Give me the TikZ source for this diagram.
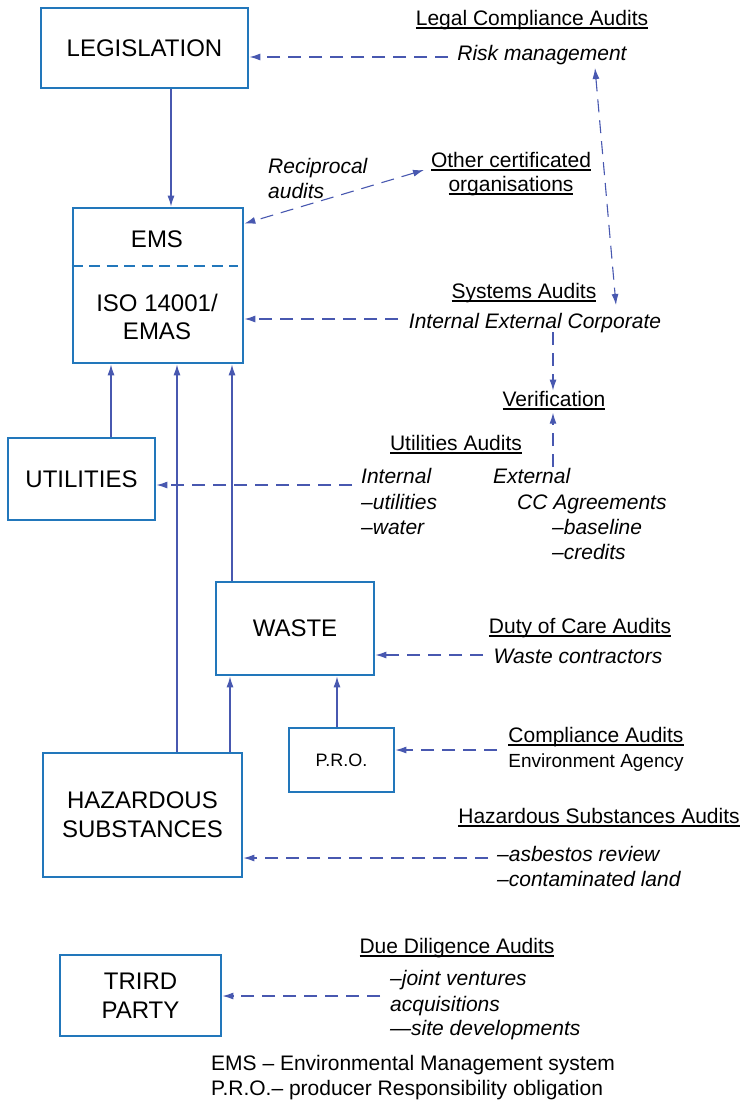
\documentclass[tikz,border=0pt]{standalone}
\usepackage{fontspec}
\setmainfont{Liberation Sans}
\usetikzlibrary{arrows.meta}
\definecolor{boxblue}{HTML}{2277BB}
\definecolor{arrblue}{HTML}{4858B0}
% underline with a rule of fixed weight
\newcommand{\ulab}[1]{\setbox0\hbox{#1}\rlap{\rule[-3.5pt]{\wd0}{1.1pt}}\box0}
\begin{document}
\begin{tikzpicture}[x=1pt,y=-1pt,
  box/.style={draw=boxblue,line width=2.8pt,inner sep=0pt,align=center,
    font=\fontsize{24}{29}\selectfont},
  lab/.style={inner sep=0pt,font=\fontsize{21}{25}\itshape\selectfont},
  head/.style={inner sep=0pt,font=\fontsize{21}{25}\selectfont},
  sar/.style={arrblue,line width=1.1pt,-{Latex[length=11pt,width=7pt]}},
  dar/.style={arrblue,line width=1.1pt,dash pattern=on 13pt off 8pt,
    -{Latex[length=11pt,width=7pt]}},
  ddar/.style={dar,{Latex[length=11pt,width=7pt]}-{Latex[length=11pt,width=7pt]}}]
\useasboundingbox (0,0) rectangle (742,1101);

% boxes
\node[box,minimum width=207pt,minimum height=80pt] (legis) at (144.5,48) {LEGISLATION};
\node[box,minimum width=170pt,minimum height=155pt] (ems) at (158,285.5) {};
\node[box,minimum width=147pt,minimum height=82pt] (util) at (81.5,479) {UTILITIES};
\node[box,minimum width=158pt,minimum height=93pt] (waste) at (295,628.5) {WASTE};
\node[box,minimum width=105pt,minimum height=64pt,font=\fontsize{18}{22}\selectfont] (pro) at (341.5,760) {P.R.O.};
\node[box,minimum width=199pt,minimum height=124pt] (haz) at (142.5,815) {HAZARDOUS\\SUBSTANCES};
\node[box,minimum width=161pt,minimum height=81pt] (third) at (140.5,995.5) {TRIRD\\PARTY};

% inside of the EMS box
\node[inner sep=0pt,font=\fontsize{24}{29}\selectfont] (emsT) at (157,239) {EMS};
\node[inner sep=0pt,align=center,font=\fontsize{24}{28}\selectfont] (isoT) at (157,317) {ISO 14001/\\EMAS};
\draw[boxblue,line width=2.8pt,dash pattern=on 11pt off 6.5pt] (ems.west |- 0,266) -- ([xshift=-6pt]ems.east |- 0,266);

% solid links between boxes
\draw[sar] ([xshift=26.5pt]legis.south) coordinate (l1) -- (l1 |- ems.north);
\draw[sar] ([xshift=29.5pt]util.north) coordinate (u1) -- (u1 |- ems.south);
\draw[sar] ([xshift=34.5pt]haz.north) coordinate (h1) -- (h1 |- ems.south);
\draw[sar] ([xshift=-63pt]waste.north) coordinate (w1) -- (w1 |- ems.south);
\draw[sar] ([xshift=87.5pt]haz.north) coordinate (h2) -- (h2 |- waste.south);
\draw[sar] ([xshift=-4.5pt]pro.north) coordinate (p1) -- (p1 |- waste.south);

% audit labels
\node[head,anchor=base] (lca) at (532,25) {\ulab{Legal Compliance Audits}};
\node[lab,anchor=base] (riskm) at (542,60) {Risk management};
\node[lab,anchor=base west] (recip1) at (268,173) {Reciprocal};
\node[lab,anchor=base west] (recip2) at (268,198) {audits};
\node[head,anchor=base] (other1) at (511,167) {\ulab{Other certificated}};
\node[head,anchor=base] (other2) at (511,191) {\ulab{organisations}};
\node[head,anchor=base] (sys) at (524,298) {\ulab{Systems Audits}};
\node[lab,anchor=base] (iec) at (535,328) {Internal External Corporate};
\node[head,anchor=base] (verif) at (554,406) {\ulab{Verification}};
\node[head,anchor=base] (uaud) at (456,450) {\ulab{Utilities Audits}};
\node[lab,anchor=base west] (int1) at (361,483) {Internal};
\node[lab,anchor=base west] (int2) at (361,509) {–utilities};
\node[lab,anchor=base west] (int3) at (361,534) {–water};
\node[lab,anchor=base west] (ext1) at (493,483) {External};
\node[lab,anchor=base west] (ext2) at (517,509) {CC Agreements};
\node[lab,anchor=base west] (ext3) at (552,534) {–baseline};
\node[lab,anchor=base west] (ext4) at (552,559) {–credits};
\node[head,anchor=base] (duty) at (580,633) {\ulab{Duty of Care Audits}};
\node[lab,anchor=base] (wcon) at (578,663) {Waste contractors};
\node[head,anchor=base] (comp) at (596,742) {\ulab{Compliance Audits}};
\node[inner sep=0pt,anchor=base,font=\fontsize{19}{23}\selectfont] (envag) at (596,767) {Environment Agency};
\node[head,anchor=base] (hsa) at (599,823) {\ulab{Hazardous Substances Audits}};
\node[lab,anchor=base west] (asb) at (497,861) {–asbestos review};
\node[lab,anchor=base west] (cont) at (497,886) {–contaminated land};
\node[head,anchor=base] (ddil) at (457,953) {\ulab{Due Diligence Audits}};
\node[lab,anchor=base west] (jv) at (390,985) {–joint ventures};
\node[lab,anchor=base west] (acq) at (390,1011) {acquisitions};
\node[lab,anchor=base west] (site) at (390,1035) {—site developments};

% key
\node[head,anchor=base west] (key1) at (211,1070) {EMS – Environmental Management system};
\node[head,anchor=base west] (key2) at (211,1095) {P.R.O.– producer Responsibility obligation};

% free ends of the audit connectors
\coordinate (ra) at (448,57);
\coordinate (rtop) at (595,68);
\coordinate (rbot) at (616,305);
\coordinate (reca) at (424,170);
\coordinate (sa) at (398,319);
\coordinate (vtop) at (553,332);
\coordinate (vext) at (553,467);
\coordinate (ua) at (352,485);
\coordinate (wa) at (483,655);
\coordinate (pa) at (497,750);
\coordinate (ha) at (488,858);
\coordinate (ta) at (380,996);

% dashed audit connectors
\draw[dar] (ra) -- (ra -| legis.east);
\draw[ddar] (rtop) -- (rbot);
\draw[ddar] (reca) -- ([yshift=-17pt]ems.north east);
\draw[dar] (sa) -- (sa -| ems.east);
\draw[dar] (vtop) -- (vtop |- verif.north);
\draw[dar] (vext) -- ([yshift=-3pt]vext |- verif.south);
\draw[dar] (ua) -- (ua -| util.east);
\draw[dar] (wa) -- (wa -| waste.east);
\draw[dar] (pa) -- (pa -| pro.east);
\draw[dar] (ha) -- (ha -| haz.east);
\draw[dar] (ta) -- (ta -| third.east);
\end{tikzpicture}
\end{document}
